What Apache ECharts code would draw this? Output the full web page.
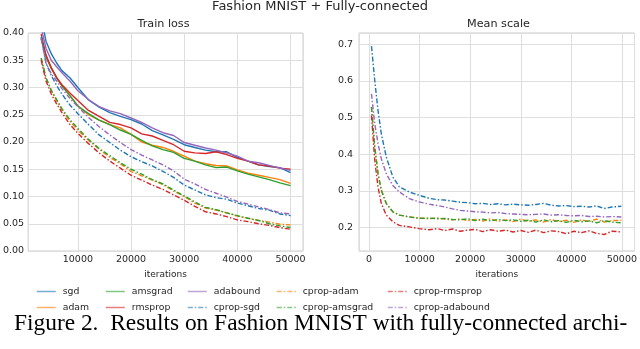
<!DOCTYPE html>
<html>
<head>
<meta charset="utf-8">
<script src="https://cdn.jsdelivr.net/npm/echarts@6/dist/echarts.min.js"></script>
<style>
  html, body { margin: 0; padding: 0; background: #fff; }
  #main { width: 640px; height: 349px; }
</style>
</head>
<body>
<div id="main"></div>
<script>
// train loss
var lossIters = [3100, 4000, 5000, 6000, 7000, 8500, 10000, 12000, 14000, 16000, 18000, 20000, 22000, 24000,
  26000, 28000, 30000, 32000, 34000, 36000, 38000, 40000, 42000, 44000, 46000, 48000, 50000]
var lossSgd = [0.43, 0.385, 0.362, 0.345, 0.331, 0.318, 0.300, 0.277, 0.264, 0.254, 0.247, 0.241, 0.233, 0.221,
  0.213, 0.205, 0.195, 0.190, 0.185, 0.182, 0.182, 0.172, 0.165, 0.158, 0.155, 0.153, 0.144]
var lossAdam = [0.39, 0.356, 0.335, 0.318, 0.303, 0.285, 0.266, 0.250, 0.240, 0.232, 0.226, 0.214, 0.200, 0.194,
  0.190, 0.183, 0.174, 0.165, 0.160, 0.157, 0.156, 0.149, 0.143, 0.139, 0.135, 0.131, 0.124]
var lossAmsgrad = [0.39, 0.357, 0.336, 0.318, 0.303, 0.285, 0.266, 0.252, 0.240, 0.232, 0.222, 0.214, 0.203, 0.193,
  0.186, 0.181, 0.170, 0.165, 0.158, 0.153, 0.154, 0.147, 0.141, 0.136, 0.131, 0.125, 0.120]
var lossRmsprop = [0.398, 0.36, 0.336, 0.318, 0.305, 0.290, 0.276, 0.258, 0.247, 0.236, 0.232, 0.226, 0.215, 0.211,
  0.203, 0.195, 0.183, 0.180, 0.179, 0.182, 0.177, 0.170, 0.165, 0.158, 0.156, 0.152, 0.150]
var lossAdabound = [0.41, 0.372, 0.350, 0.338, 0.327, 0.312, 0.294, 0.278, 0.265, 0.257, 0.252, 0.244, 0.236, 0.226,
  0.217, 0.212, 0.199, 0.194, 0.189, 0.185, 0.180, 0.174, 0.165, 0.162, 0.157, 0.152, 0.148]
var lossCpropSgd = [0.393, 0.345, 0.322, 0.304, 0.288, 0.268, 0.252, 0.232, 0.213, 0.199, 0.185, 0.173, 0.164, 0.156,
  0.146, 0.135, 0.121, 0.112, 0.103, 0.098, 0.095, 0.088, 0.083, 0.078, 0.075, 0.068, 0.065]
var lossCpropAdam = [0.354, 0.318, 0.294, 0.276, 0.259, 0.238, 0.222, 0.203, 0.187, 0.172, 0.160, 0.146, 0.138, 0.130,
  0.122, 0.110, 0.100, 0.088, 0.079, 0.075, 0.070, 0.064, 0.060, 0.056, 0.053, 0.049, 0.048]
var lossCpropAmsgrad = [0.354, 0.318, 0.295, 0.278, 0.261, 0.241, 0.225, 0.205, 0.188, 0.175, 0.162, 0.150, 0.141, 0.131,
  0.123, 0.112, 0.101, 0.090, 0.080, 0.076, 0.070, 0.065, 0.060, 0.056, 0.050, 0.046, 0.043]
var lossCpropRmsprop = [0.350, 0.312, 0.288, 0.270, 0.254, 0.232, 0.216, 0.197, 0.180, 0.165, 0.152, 0.139, 0.130, 0.121,
  0.113, 0.103, 0.093, 0.082, 0.072, 0.068, 0.063, 0.057, 0.054, 0.050, 0.047, 0.043, 0.040]
var lossCpropAdabound = [0.39, 0.345, 0.325, 0.312, 0.298, 0.280, 0.265, 0.245, 0.228, 0.213, 0.199, 0.186, 0.176, 0.167,
  0.158, 0.147, 0.132, 0.123, 0.113, 0.106, 0.099, 0.091, 0.086, 0.081, 0.076, 0.070, 0.068]

// mean scale, right panel (cprop only)
var scaleIters = [470, 1110, 1760, 2410, 3390, 4690, 5990, 7940, 9890, 11840, 13500, 15000, 16500, 18000, 19500,
  21000, 22500, 24000, 25500, 27000, 28500, 30000, 31500, 33000, 34500, 36000, 37500, 39000, 40500, 42000,
  43500, 45000, 46500, 48000, 49900]
var scaleCpropSgd = [0.695, 0.602, 0.520, 0.456, 0.393, 0.338, 0.311, 0.297, 0.288, 0.280, 0.276, 0.275, 0.272, 0.269, 0.268,
  0.265, 0.266, 0.263, 0.265, 0.262, 0.264, 0.262, 0.261, 0.263, 0.266, 0.261, 0.259, 0.260, 0.257, 0.258,
  0.256, 0.259, 0.252, 0.256, 0.258]
var scaleCpropAdam = [0.529, 0.420, 0.347, 0.302, 0.266, 0.243, 0.234, 0.229, 0.226, 0.224, 0.226, 0.223, 0.221, 0.224, 0.219,
  0.222, 0.218, 0.224, 0.217, 0.221, 0.216, 0.223, 0.217, 0.221, 0.215, 0.222, 0.216, 0.220, 0.214, 0.221,
  0.216, 0.223, 0.215, 0.219, 0.220]
var scaleCpropAmsgrad = [0.529, 0.420, 0.347, 0.302, 0.266, 0.243, 0.234, 0.229, 0.225, 0.226, 0.224, 0.225, 0.222, 0.221, 0.224,
  0.219, 0.223, 0.218, 0.222, 0.219, 0.221, 0.217, 0.220, 0.215, 0.221, 0.216, 0.219, 0.214, 0.220, 0.216,
  0.218, 0.213, 0.219, 0.215, 0.213]
var scaleCpropRmsprop = [0.506, 0.384, 0.311, 0.266, 0.234, 0.216, 0.206, 0.202, 0.197, 0.194, 0.197, 0.192, 0.196, 0.190, 0.193,
  0.195, 0.189, 0.194, 0.190, 0.193, 0.188, 0.192, 0.187, 0.193, 0.186, 0.191, 0.189, 0.183, 0.190, 0.186,
  0.191, 0.184, 0.181, 0.190, 0.188]
var scaleCpropAdabound = [0.565, 0.484, 0.429, 0.388, 0.347, 0.315, 0.297, 0.279, 0.270, 0.264, 0.260, 0.256, 0.251, 0.247, 0.245,
  0.243, 0.242, 0.240, 0.241, 0.238, 0.237, 0.236, 0.235, 0.236, 0.237, 0.234, 0.235, 0.233, 0.232, 0.233,
  0.230, 0.231, 0.229, 0.230, 0.229]

var iterTicksLeft = [10000, 20000, 30000, 40000, 50000]
var iterTicksRight = [0, 10000, 20000, 30000, 40000, 50000]
var scaleTicks = [0.2, 0.3, 0.4, 0.5, 0.6, 0.7]

var colors = { sgd: '#1f77b4', adam: '#ff7f0e', amsgrad: '#2ca02c', rmsprop: '#d62728', adabound: '#9467bd' }
var dashDot = [5, 2, 1.5, 2]
var font = 'DejaVu Sans'
var textColor = '#262626'

function pairs (xs, ys) {
  return xs.map(function (x, i) { return [x, ys[i]] })
}

function line (name, color, dashed, xs, ys, idx) {
  return {
    name: name,
    type: 'line',
    xAxisIndex: idx,
    yAxisIndex: idx,
    data: pairs(xs, ys),
    showSymbol: false,
    symbol: 'none',
    animation: false,
    clip: true,
    lineStyle: { color: color, width: 1.4, type: dashed ? dashDot : 'solid' },
    itemStyle: { color: color }
  }
}

var series = [
  line('sgd', colors.sgd, false, lossIters, lossSgd, 0),
  line('adam', colors.adam, false, lossIters, lossAdam, 0),
  line('amsgrad', colors.amsgrad, false, lossIters, lossAmsgrad, 0),
  line('rmsprop', colors.rmsprop, false, lossIters, lossRmsprop, 0),
  line('adabound', colors.adabound, false, lossIters, lossAdabound, 0),
  line('cprop-sgd', colors.sgd, true, lossIters, lossCpropSgd, 0),
  line('cprop-adam', colors.adam, true, lossIters, lossCpropAdam, 0),
  line('cprop-amsgrad', colors.amsgrad, true, lossIters, lossCpropAmsgrad, 0),
  line('cprop-rmsprop', colors.rmsprop, true, lossIters, lossCpropRmsprop, 0),
  line('cprop-adabound', colors.adabound, true, lossIters, lossCpropAdabound, 0),
  line('cprop-sgd', colors.sgd, true, scaleIters, scaleCpropSgd, 1),
  line('cprop-adam', colors.adam, true, scaleIters, scaleCpropAdam, 1),
  line('cprop-amsgrad', colors.amsgrad, true, scaleIters, scaleCpropAmsgrad, 1),
  line('cprop-rmsprop', colors.rmsprop, true, scaleIters, scaleCpropRmsprop, 1),
  line('cprop-adabound', colors.adabound, true, scaleIters, scaleCpropAdabound, 1)
]

var axisLabel = { color: textColor, fontSize: 9.5, fontFamily: font, margin: 4 }
var splitLine = { show: true, lineStyle: { color: '#dedede', width: 1 } }
var plainNumber = function (v) { return String(v) }

function legendCol (left, names) {
  return {
    orient: 'vertical',
    left: left,
    top: 287,
    itemWidth: 19,
    itemHeight: 10,
    itemGap: 7,
    padding: 0,
    data: names,
    selectedMode: false,
    textStyle: { color: textColor, fontSize: 9.3, fontFamily: font, padding: [0, 0, 0, 2] },
    itemStyle: { opacity: 0 },
    lineStyle: { opacity: 0.6, width: 1.5 }
  }
}

var option = {
  backgroundColor: '#fff',
  animation: false,
  grid: [
    { left: 24, right: 337, top: 33, bottom: 98, show: true, borderColor: '#cccccc', borderWidth: 1 },
    { left: 359, right: 2, top: 33, bottom: 98, show: true, borderColor: '#cccccc', borderWidth: 1 }
  ],
  xAxis: [
    {
      type: 'value', gridIndex: 0, min: 650, max: 52350,
      name: 'iterations', nameLocation: 'middle', nameGap: 19,
      nameTextStyle: { color: textColor, fontSize: 9, fontFamily: font },
      axisLine: { show: false }, axisTick: { show: false },
      axisLabel: Object.assign({ customValues: iterTicksLeft, formatter: plainNumber }, axisLabel),
      splitLine: Object.assign({ customValues: iterTicksLeft }, splitLine)
    },
    {
      type: 'value', gridIndex: 1, min: -2000, max: 52500,
      name: 'iterations', nameLocation: 'middle', nameGap: 19,
      nameTextStyle: { color: textColor, fontSize: 9, fontFamily: font },
      axisLine: { show: false }, axisTick: { show: false },
      axisLabel: Object.assign({ customValues: iterTicksRight, formatter: plainNumber }, axisLabel),
      splitLine: Object.assign({ customValues: iterTicksRight }, splitLine)
    }
  ],
  yAxis: [
    {
      type: 'value', gridIndex: 0, min: 0, max: 0.4, interval: 0.05,
      axisLine: { show: false }, axisTick: { show: false },
      axisLabel: Object.assign({ formatter: function (v) { return v.toFixed(2) } }, axisLabel),
      splitLine: splitLine
    },
    {
      type: 'value', gridIndex: 1, min: 0.136, max: 0.731,
      axisLine: { show: false }, axisTick: { show: false },
      axisLabel: Object.assign({ customValues: scaleTicks, formatter: function (v) { return v.toFixed(1) } }, axisLabel, { margin: 6 }),
      splitLine: Object.assign({ customValues: scaleTicks }, splitLine)
    }
  ],
  legend: [
    legendCol(36, ['sgd', 'adam']),
    legendCol(105, ['amsgrad', 'rmsprop']),
    legendCol(187, ['adabound', 'cprop-sgd']),
    legendCol(276, ['cprop-adam', 'cprop-amsgrad']),
    legendCol(387, ['cprop-rmsprop', 'cprop-adabound'])
  ],
  graphic: [
    { type: 'text', x: 320, y: 7, style: { text: 'Fashion MNIST + Fully-connected', fill: textColor, font: '13px "DejaVu Sans"', textAlign: 'center', textVerticalAlign: 'middle' } },
    { type: 'text', x: 163.5, y: 24, style: { text: 'Train loss', fill: textColor, font: '11.2px "DejaVu Sans"', textAlign: 'center', textVerticalAlign: 'middle' } },
    { type: 'text', x: 498.5, y: 24, style: { text: 'Mean scale', fill: textColor, font: '11.2px "DejaVu Sans"', textAlign: 'center', textVerticalAlign: 'middle' } },
    { type: 'text', x: 14, y: 324, style: { text: 'Figure 2.  Results on Fashion MNIST with fully-connected archi-', fill: '#000', font: '23.4px "Liberation Serif"', textAlign: 'left', textVerticalAlign: 'middle' } }
  ],
  series: series
}

var chart = echarts.init(document.getElementById('main'), null, { renderer: 'canvas' })
chart.setOption(option)
</script>
</body>
</html>
